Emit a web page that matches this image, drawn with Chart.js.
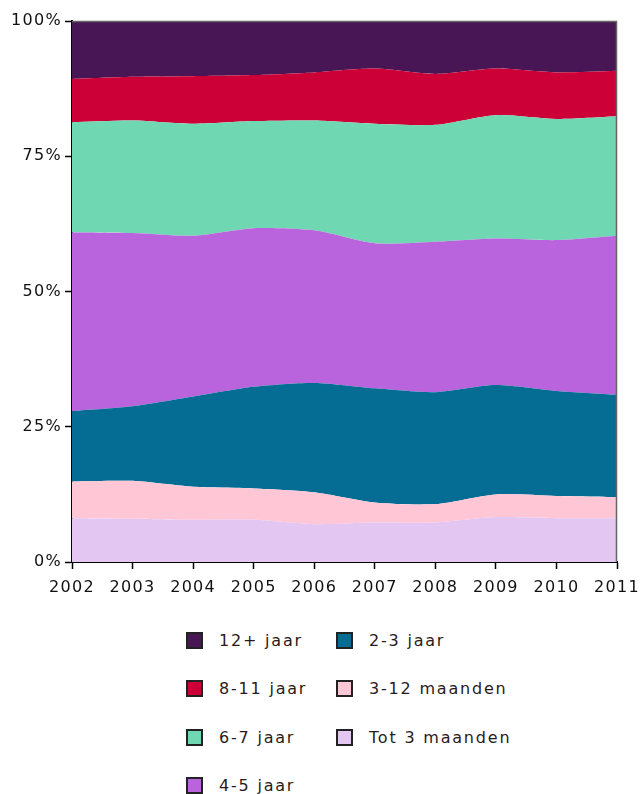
<!DOCTYPE html>
<html>
<head>
<meta charset="utf-8">
<script src="https://cdn.jsdelivr.net/npm/chart.js@4.4.1/dist/chart.umd.min.js"></script>
<style>
  html,body{margin:0;padding:0;background:#fff;}
  #wrap{position:relative;width:641px;height:794px;overflow:hidden;}
  #cv{position:absolute;left:0;top:0;}
  #legend{position:absolute;left:186px;top:616px;display:grid;grid-auto-flow:column;
    grid-template-rows:repeat(4,48.5px);grid-template-columns:150px 230px;
    font-family:"DejaVu Sans",Verdana,sans-serif;font-size:16px;letter-spacing:1.8px;color:#2a1a1a;}
  .item{display:flex;align-items:center;white-space:nowrap;}
  .sw{width:13px;height:13px;border:2px solid #222;margin-right:16px;box-sizing:content-box;}
</style>
</head>
<body>
<div id="wrap">
  <canvas id="cv" width="641" height="610"></canvas>
  <div id="legend"></div>
</div>
<script>
const years = ["2002","2003","2004","2005","2006","2007","2008","2009","2010","2011"];
const yTicks = [0, 25, 50, 75, 100];

const tot3Maanden = [8.1, 8.0, 7.8, 7.8, 7.0, 7.3, 7.3, 8.3, 8.1, 8.1];
const m3to12      = [6.8, 7.0, 6.1, 5.8, 5.9, 3.7, 3.4, 4.2, 4.1, 3.9];
const j2to3       = [13.0, 13.8, 16.7, 18.8, 20.2, 21.1, 20.7, 20.2, 19.4, 18.9];
const j4to5       = [33.0, 32.0, 29.7, 29.3, 28.2, 26.8, 27.8, 27.1, 27.9, 29.4];
const j6to7       = [20.4, 20.8, 20.7, 19.8, 20.3, 22.1, 21.6, 22.8, 22.4, 22.1];
const j8to11      = [8.0, 8.1, 8.8, 8.5, 8.9, 10.2, 9.4, 8.6, 8.6, 8.4];
const j12plus     = [10.7, 10.3, 10.2, 10.0, 9.5, 8.8, 9.8, 8.8, 9.5, 9.2];

const seriesNames = ["Tot 3 maanden","3-12 maanden","2-3 jaar","4-5 jaar","6-7 jaar","8-11 jaar","12+ jaar"];
const seriesData = [tot3Maanden, m3to12, j2to3, j4to5, j6to7, j8to11, j12plus];
const seriesColors = ["#e3c6f2","#ffc6d6","#056d93","#b963dc","#6fd8b3","#cc0036","#481654"];

const datasets = seriesNames.map((n,i)=>({
  label:n, data:seriesData[i], backgroundColor:seriesColors[i], borderColor:seriesColors[i],
  borderWidth:0, pointRadius:0, fill: i===0 ? 'origin' : '-1', tension:0.25
}));

const frame = {
  id:'frame',
  beforeDraw(chart){ chart.ctx.letterSpacing = '1.3px'; },
  afterDatasetsDraw(chart){
    const {ctx, chartArea:a} = chart;
    ctx.save();
    ctx.letterSpacing='0px';
    ctx.strokeStyle='#666'; ctx.lineWidth=1.5;
    ctx.beginPath();
    ctx.moveTo(a.left, a.top+0.5); ctx.lineTo(a.right-0.5, a.top+0.5); ctx.lineTo(a.right-0.5, a.bottom);
    ctx.stroke();
    ctx.restore();
  }
};

const chart = new Chart(document.getElementById('cv'), {
  type:'line',
  data:{labels:years, datasets},
  plugins:[frame],
  options:{
    responsive:false, animation:false,
    layout:{padding:{top:21,right:24,left:0,bottom:0}},
    plugins:{legend:{display:false}, tooltip:{enabled:false}},
    scales:{
      x:{
        offset:false,
        grid:{drawOnChartArea:false, drawTicks:true, tickLength:7, color:'#000', tickWidth:1.5},
        border:{display:true, color:'#000', width:2},
        ticks:{color:'#111', font:{family:'"DejaVu Sans", Verdana, sans-serif', size:16}, padding:9, maxRotation:0, autoSkip:false},
        afterFit(s){ s.height = 48; s.paddingLeft = 0; s.paddingRight = 0; }
      },
      y:{
        stacked:true, min:0, max:100,
        afterBuildTicks(s){ s.ticks = yTicks.map(v=>({value:v})); },
        grid:{drawOnChartArea:false, drawTicks:true, tickLength:7, color:'#000', tickWidth:1.5},
        border:{display:true, color:'#000', width:2},
        ticks:{color:'#111', font:{family:'"DejaVu Sans", Verdana, sans-serif', size:16}, padding:3, callback:v=>v+'%'},
        afterFit(s){ s.width = 72; s.paddingTop = 0; s.paddingBottom = 0; }
      }
    }
  }
});

// HTML legend (column-major order as in reference)
const legendOrder = [6,5,4,3,2,1,0];
const lg = document.getElementById('legend');
legendOrder.forEach(i=>{
  const d = document.createElement('div'); d.className='item';
  const sw = document.createElement('span'); sw.className='sw'; sw.style.background = seriesColors[i];
  const t = document.createElement('span'); t.textContent = seriesNames[i];
  d.appendChild(sw); d.appendChild(t); lg.appendChild(d);
});
</script>
</body>
</html>
